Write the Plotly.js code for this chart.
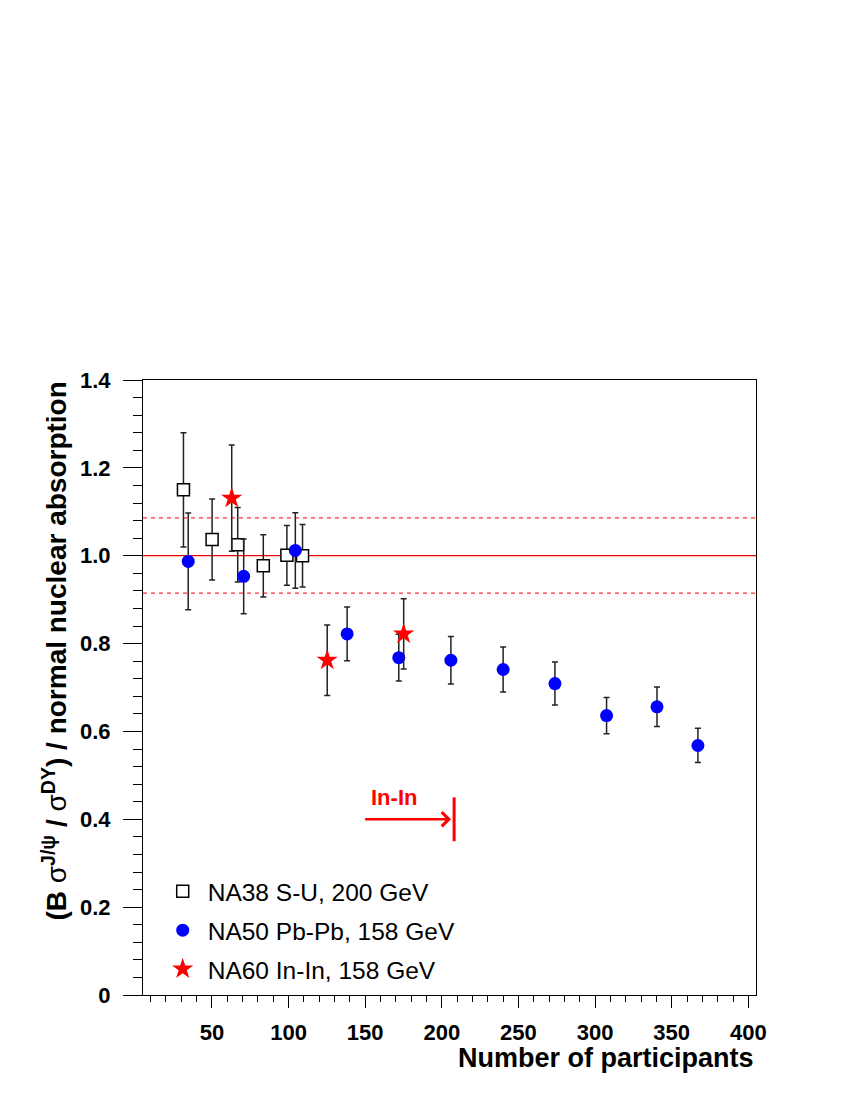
<!DOCTYPE html>
<html>
<head>
<meta charset="utf-8">
<script src="https://cdn.plot.ly/plotly-3.0.1.min.js"></script>
<style>
  html, body { margin: 0; padding: 0; background: #fff; }
  #chart { width: 850px; height: 1100px; }
</style>
</head>
<body>
<div id="chart"></div>
<script>
// NA38 S-U, 200 GeV
const na38Npart = [31.4, 50.1, 66.8, 83.5, 98.9, 109.1];
const na38Ratio = [1.150, 1.037, 1.025, 0.977, 1.001, 1.000];
const na38Err = [0.130, 0.092, 0.085, 0.071, 0.068, 0.071];

// NA50 Pb-Pb, 158 GeV
const na50Npart = [34.5, 70.7, 104.4, 138.2, 171.9, 205.9, 240.0, 273.8, 307.5, 340.4, 367.1];
const na50Ratio = [0.987, 0.953, 1.012, 0.822, 0.768, 0.762, 0.741, 0.709, 0.636, 0.656, 0.568];
const na50Err = [0.110, 0.085, 0.086, 0.061, 0.053, 0.054, 0.051, 0.049, 0.041, 0.045, 0.039];

// NA60 In-In, 158 GeV
const na60Npart = [62.9, 125.2, 175.1];
const na60Ratio = [1.131, 0.762, 0.822];
const na60Err = [0.121, 0.080, 0.080];

// reference lines (normal absorption = 1, with its uncertainty band)
const normRatio = 1.0;
const normBand = [0.915, 1.086];

// In-In reach marker
const inInStart = 149;
const inInLimit = 208;
const inInLevel = 0.40;

// axis ticks
const xTickVals = [50, 100, 150, 200, 250, 300, 350, 400];
const yTickVals = [0, 0.2, 0.4, 0.6, 0.8, 1.0, 1.2, 1.4];
const yTickText = ['0', '0.2', '0.4', '0.6', '0.8', '1.0', '1.2', '1.4'];

const legendNames = ['NA38 S-U, 200 GeV', 'NA50 Pb-Pb, 158 GeV', 'NA60 In-In, 158 GeV'];

const errStyle = (arr) => ({ type: 'data', array: arr, visible: true, color: '#222', thickness: 1.5, width: 3 });

const traces = [
  {
    x: na38Npart, y: na38Ratio, name: legendNames[0], legendgroup: 'a',
    type: 'scatter', mode: 'markers',
    error_y: errStyle(na38Err),
    marker: { symbol: 'square', size: 12, color: '#ffffff', line: { color: '#000', width: 1.5 } }
  },
  {
    x: na50Npart, y: na50Ratio, name: legendNames[1], legendgroup: 'b',
    type: 'scatter', mode: 'markers',
    error_y: errStyle(na50Err),
    marker: { symbol: 'circle', size: 13, color: '#0000ff', line: { width: 0 } }
  },
  {
    x: na60Npart, y: na60Ratio, name: legendNames[2], legendgroup: 'c',
    type: 'scatter', mode: 'markers',
    error_y: errStyle(na60Err),
    marker: { symbol: 'star', size: 16, color: '#ff0000', line: { width: 0 } }
  }
];

const fontBold = { family: 'Liberation Sans, Arial, sans-serif', weight: 'bold', color: '#000' };

const layout = {
  width: 850,
  height: 1100,
  margin: { l: 143, r: 94, t: 380, b: 105 },
  paper_bgcolor: '#fff',
  plot_bgcolor: '#fff',
  showlegend: true,
  legend: {
    x: 0.024, xanchor: 'left', y: 0.205, yanchor: 'top',
    font: { family: 'Liberation Sans, Arial, sans-serif', size: 24.5, color: '#000' },
    bgcolor: 'rgba(0,0,0,0)', tracegroupgap: 4, traceorder: 'grouped', itemwidth: 40
  },
  xaxis: {
    range: [5, 405], showgrid: false, zeroline: false,
    showline: true, linecolor: '#000', linewidth: 1, mirror: true,
    tickmode: 'array', tickvals: xTickVals,
    ticks: 'outside', ticklen: 12, tickcolor: '#000', ticklabelstandoff: 6,
    tickfont: Object.assign({ size: 22 }, fontBold),
    minor: { dtick: 10, tick0: 0, ticks: 'outside', ticklen: 6, tickcolor: '#000', showgrid: false }
  },
  yaxis: {
    range: [0, 1.4], showgrid: false, zeroline: false,
    showline: true, linecolor: '#000', linewidth: 1, mirror: true,
    tickmode: 'array', tickvals: yTickVals, ticktext: yTickText,
    ticks: 'outside', ticklen: 19, tickcolor: '#000', ticklabelstandoff: 8,
    tickfont: Object.assign({ size: 22 }, fontBold),
    minor: { dtick: 0.04, tick0: 0, ticks: 'outside', ticklen: 9, tickcolor: '#000', showgrid: false }
  },
  shapes: [
    { type: 'line', xref: 'paper', x0: 0, x1: 1, yref: 'y', y0: normRatio, y1: normRatio,
      line: { color: '#ee0000', width: 1.2 }, layer: 'below' },
    { type: 'line', xref: 'paper', x0: 0, x1: 1, yref: 'y', y0: normBand[0], y1: normBand[0],
      line: { color: '#ff3030', width: 1.3, dash: '4px,4px' }, layer: 'below' },
    { type: 'line', xref: 'paper', x0: 0, x1: 1, yref: 'y', y0: normBand[1], y1: normBand[1],
      line: { color: '#ff3030', width: 1.3, dash: '4px,4px' }, layer: 'below' },
    { type: 'line', xref: 'x', x0: inInLimit, x1: inInLimit, yref: 'y', y0: inInLevel - 0.05, y1: inInLevel + 0.05,
      line: { color: '#ff0000', width: 3 } }
  ],
  annotations: [
    {
      x: inInLimit - 2, y: inInLevel, xref: 'x', yref: 'y',
      ax: inInStart, ay: inInLevel, axref: 'x', ayref: 'y',
      showarrow: true, arrowhead: 4, arrowsize: 1.1, arrowwidth: 2.5, arrowcolor: '#ff0000', text: '',
      standoff: 0, startstandoff: 0
    },
    {
      x: (inInStart + inInLimit - 20) / 2, y: inInLevel + 0.05, xref: 'x', yref: 'y',
      text: '<b>In-In</b>', showarrow: false, xanchor: 'center', yanchor: 'middle',
      font: { family: 'Liberation Sans, Arial, sans-serif', size: 22, color: '#ff0000' }
    },
    {
      x: 1, y: -0.102, xref: 'paper', yref: 'paper', xanchor: 'right', yanchor: 'middle',
      text: '<b>Number of participants</b>', showarrow: false,
      font: { family: 'Liberation Sans, Arial, sans-serif', size: 27, color: '#000' }
    },
    {
      x: -0.145, y: 1, xref: 'paper', yref: 'paper', xanchor: 'center', yanchor: 'top',
      textangle: -90, showarrow: false,
      text: '<b>(B </b>σ<sup><b>J/ψ</b></sup><b> / </b>σ<sup><b>DY</b></sup><b>) / normal nuclear absorption</b>',
      font: { family: 'Liberation Sans, Arial, sans-serif', size: 28, color: '#000' }
    }
  ]
};

Plotly.newPlot('chart', traces, layout, { staticPlot: true, displayModeBar: false });
</script>
</body>
</html>
